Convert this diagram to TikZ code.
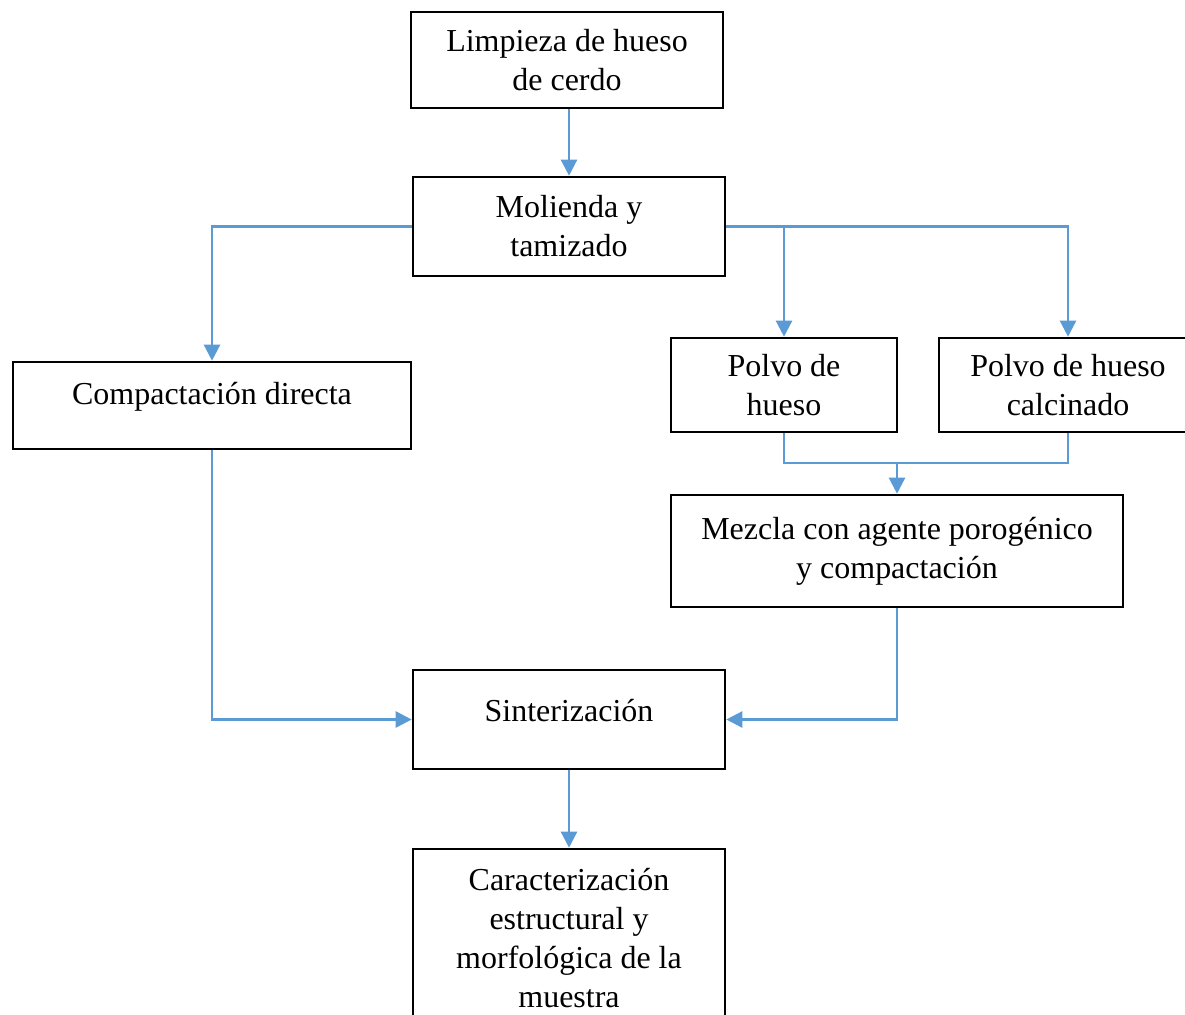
\documentclass[tikz,border=0pt]{standalone}
\usepackage{fontspec}
\setmainfont{Liberation Serif}
\definecolor{flowblue}{RGB}{91,155,213}
\usetikzlibrary{shapes,arrows.meta,positioning,calc}

\begin{document}
\begin{tikzpicture}[x=0.02cm, y=-0.02cm,
    every node/.style={font=\fontsize{18.2}{22.2}\selectfont},
    box/.style={draw, line width=1.5pt, inner sep=0pt},
    flow/.style={draw=flowblue, line width=1.4pt, -{Triangle[length=0.32cm, width=0.32cm]}},
    link/.style={draw=flowblue, line width=1.4pt}]
    \useasboundingbox (0,0) rectangle (1185,1014);
    \clip (0,0) rectangle (1185,1014);
    % boxes
    \node[box, align=center, minimum width=6.24cm, minimum height=1.92cm] (limp) at (567,60) {Limpieza de hueso\\de cerdo};
    \node[box, align=center, minimum width=6.24cm, minimum height=1.98cm] (mol) at (569,226.5) {Molienda y\\tamizado};
    \node[box, text depth=0.48cm, minimum width=7.96cm, minimum height=1.74cm] (comp) at (212,405.5) {Compactación directa};
    \node[box, align=center, minimum width=4.52cm, minimum height=1.88cm] (polvo) at (784,385) {Polvo de\\hueso};
    \node[box, align=center, minimum width=5.16cm, minimum height=1.88cm] (calc) at (1068,385) {Polvo de hueso\\calcinado};
    \node[box, align=center, minimum width=9.04cm, minimum height=2.24cm] (mez) at (897,551) {Mezcla con agente porogénico\\y compactación};
    \node[box, text depth=0.38cm, minimum width=6.24cm, minimum height=1.98cm] (sint) at (569,719.5) {Sinterización};
    \node[box, align=center, minimum width=6.24cm, minimum height=3.56cm] (carac) at (569,938) {Caracterización\\estructural y\\morfológica de la\\muestra};
    \coordinate (junc) at (897,463);
    % connectors
    \draw[flow] (mol.north |- limp.south) -- (mol.north);
    \draw[flow] (mol.west) -| (comp.north);
    \draw[flow] (mol.east) -| (calc.north);
    \draw[flow] (mol.east -| polvo.north) -- (polvo.north);
    \draw[link] (polvo.south) |- (junc) -| (calc.south);
    \draw[flow] (junc) -- (mez.north);
    \draw[flow] (comp.south) |- (sint.west);
    \draw[flow] (mez.south) |- (sint.east);
    \draw[flow] (sint) -- (carac);
\end{tikzpicture}
\end{document}
